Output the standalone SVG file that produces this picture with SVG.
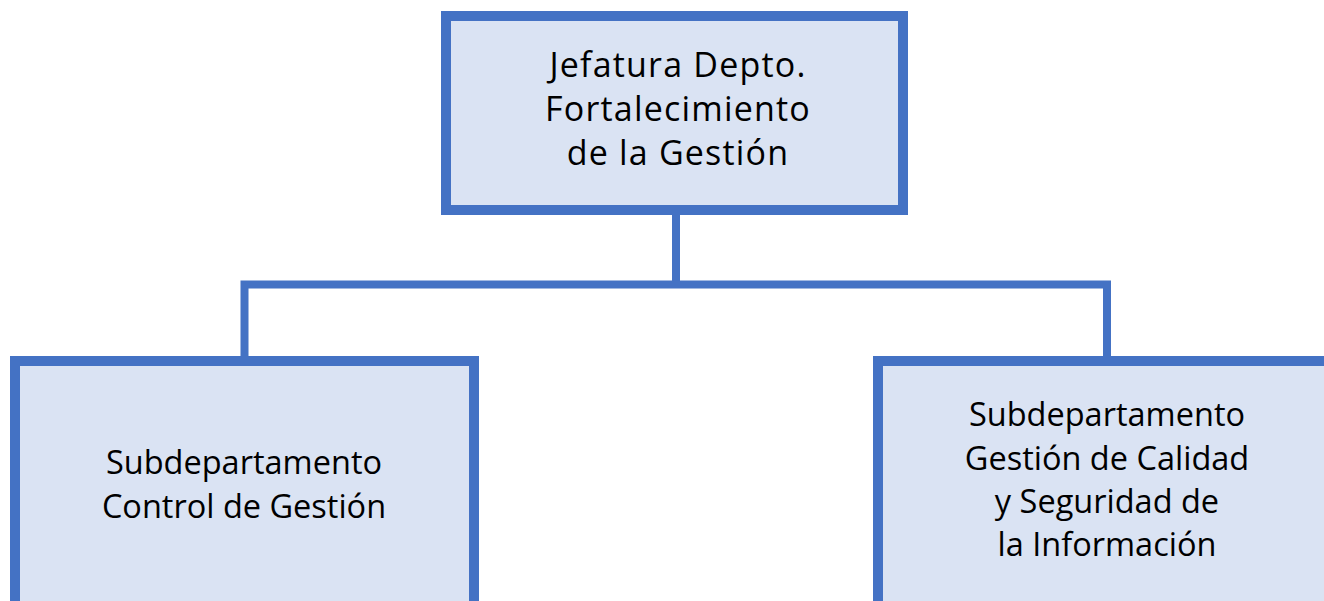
<svg xmlns="http://www.w3.org/2000/svg" width="1324" height="601" viewBox="0 0 1324 601">
<style>
.box{fill:#DAE3F3;stroke:#4472C4;stroke-width:10}
.con{fill:none;stroke:#4472C4;stroke-width:8}
text{font-family:"Open Sans","Liberation Sans",sans-serif;font-size:32.5px;fill:#000;text-anchor:middle}
.top{font-size:34px;letter-spacing:1.2px}
</style>
<rect width="1324" height="601" fill="#fff"/>
<g id="connectors">
<line class="con" x1="676" y1="210" x2="676" y2="285"/>
<polyline class="con" points="244.5,361 244.5,284.5 1107,284.5 1107,361"/>
</g>
<g id="jefatura">
<rect class="box" x="446" y="16" width="457" height="194"/>
<text class="top" x="678" y="77">Jefatura Depto.</text>
<text class="top" x="678" y="121">Fortalecimiento</text>
<text class="top" x="678" y="165">de la Gestión</text>
</g>
<g id="control">
<rect class="box" x="15" y="361" width="459" height="260"/>
<text x="244" y="474">Subdepartamento</text>
<text x="244" y="518">Control de Gestión</text>
</g>
<g id="calidad">
<rect class="box" x="878" y="361" width="470" height="260"/>
<text x="1107" y="426">Subdepartamento</text>
<text x="1107" y="470">Gestión de Calidad</text>
<text x="1107" y="513">y Seguridad de</text>
<text x="1107" y="556">la Información</text>
</g>
</svg>
